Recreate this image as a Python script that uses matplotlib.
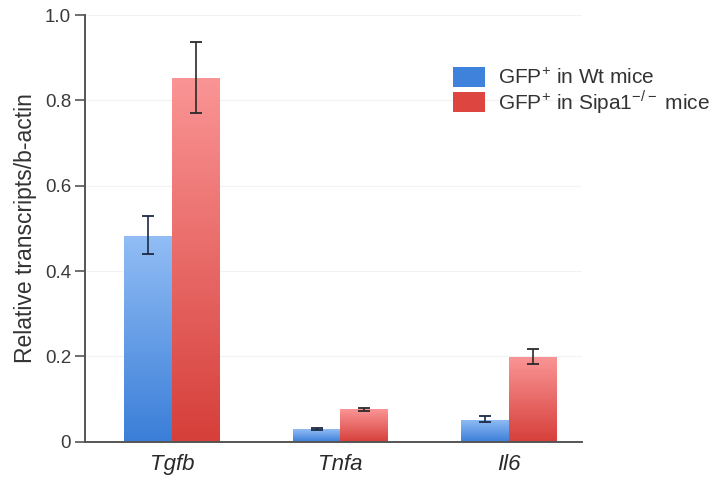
import numpy as np
import matplotlib
matplotlib.use("Agg")
import matplotlib.pyplot as plt
from matplotlib.colors import LinearSegmentedColormap
from matplotlib.patches import Patch

categories = ["Tgfb", "Tnfa", "Il6"]
wt_values = [0.482, 0.029, 0.052]
wt_err_low = [0.042, 0.002, 0.006]
wt_err_high = [0.047, 0.003, 0.008]
ko_values = [0.852, 0.076, 0.199]
ko_err_low = [0.082, 0.003, 0.017]
ko_err_high = [0.084, 0.004, 0.018]
series_labels = [r"GFP$^{+}$ in Wt mice", r"GFP$^{+}$ in Sipa1$^{-/-}$ mice"]
yticks = [0, 0.2, 0.4, 0.6, 0.8, 1.0]
ytick_labels = ["0", "0.2", "0.4", "0.6", "0.8", "1.0"]

plt.rcParams['font.family'] = ['Liberation Sans', 'DejaVu Sans']
plt.rcParams['mathtext.fontset'] = 'custom'
plt.rcParams['mathtext.rm'] = 'Liberation Sans'

fig = plt.figure(figsize=(7.28, 4.84), dpi=100)
ax = fig.add_axes([85/728, 1-441.7/484, (582-85)/728, (441.7-15)/484])

x = np.arange(len(categories))
w = 0.282
blue_cmap = LinearSegmentedColormap.from_list("b", ["#3a7ed8", "#92bdf5"])
red_cmap = LinearSegmentedColormap.from_list("r", ["#d63f3a", "#fa9595"])

b1 = ax.bar(x - w/2, wt_values, w, color="#5b95e3", edgecolor="none", zorder=2)
b2 = ax.bar(x + w/2, ko_values, w, color="#e86060", edgecolor="none", zorder=2)

grad = np.linspace(0, 1, 256).reshape(-1, 1)
for bars, cmap in ((b1, blue_cmap), (b2, red_cmap)):
    for p in bars:
        x0, y0 = p.get_x(), p.get_y()
        x1, y1 = x0 + p.get_width(), y0 + p.get_height()
        im = ax.imshow(grad, cmap=cmap, origin="lower", extent=[x0, x1, y0, y1],
                       aspect="auto", zorder=2, interpolation="bilinear")
        im.set_clip_path(p)
        p.set_facecolor("none")

ax.errorbar(x - w/2, wt_values, yerr=[wt_err_low, wt_err_high], fmt="none",
            ecolor="#1c2a44", elinewidth=1.2, capsize=4, capthick=1.3, zorder=3)
ax.errorbar(x + w/2, ko_values, yerr=[ko_err_low, ko_err_high], fmt="none",
            ecolor="#2a2a2a", elinewidth=1.2, capsize=4, capthick=1.3, zorder=3)

ax.set_xlim(-0.516, 2.433)
ax.set_ylim(0, 1.0)
ax.set_yticks(yticks)
ax.set_yticklabels(ytick_labels, fontsize=13.5, color="#3a3a3a")
ax.set_xticks(x)
ax.set_xticklabels(categories, fontsize=16, style="italic", color="#2a2a2a")
ax.tick_params(axis="x", length=0, pad=9)
ax.tick_params(axis="y", length=7, width=1.2, color="#555555", pad=3)
ax.set_ylabel("Relative transcripts/b-actin", fontsize=16.5, color="#333333", labelpad=6)

for s in ("top", "right"):
    ax.spines[s].set_visible(False)
for s in ("left", "bottom"):
    ax.spines[s].set_color("#555555")
    ax.spines[s].set_linewidth(1.4)

ax.set_axisbelow(True)
ax.grid(axis="y", color="#f2f2f2", linewidth=0.8)

handles = [Patch(facecolor="#3f82dc", edgecolor="none"),
           Patch(facecolor="#dc4540", edgecolor="none")]
fig.legend(handles, series_labels, loc="upper left",
           bbox_to_anchor=(453/728, 1-67/484), frameon=False, fontsize=15,
           handlelength=1.55, handleheight=1.1, handletextpad=0.6,
           labelspacing=0.0, borderpad=0, borderaxespad=0, labelcolor="#333333")

fig.savefig("out.png", dpi=100)
